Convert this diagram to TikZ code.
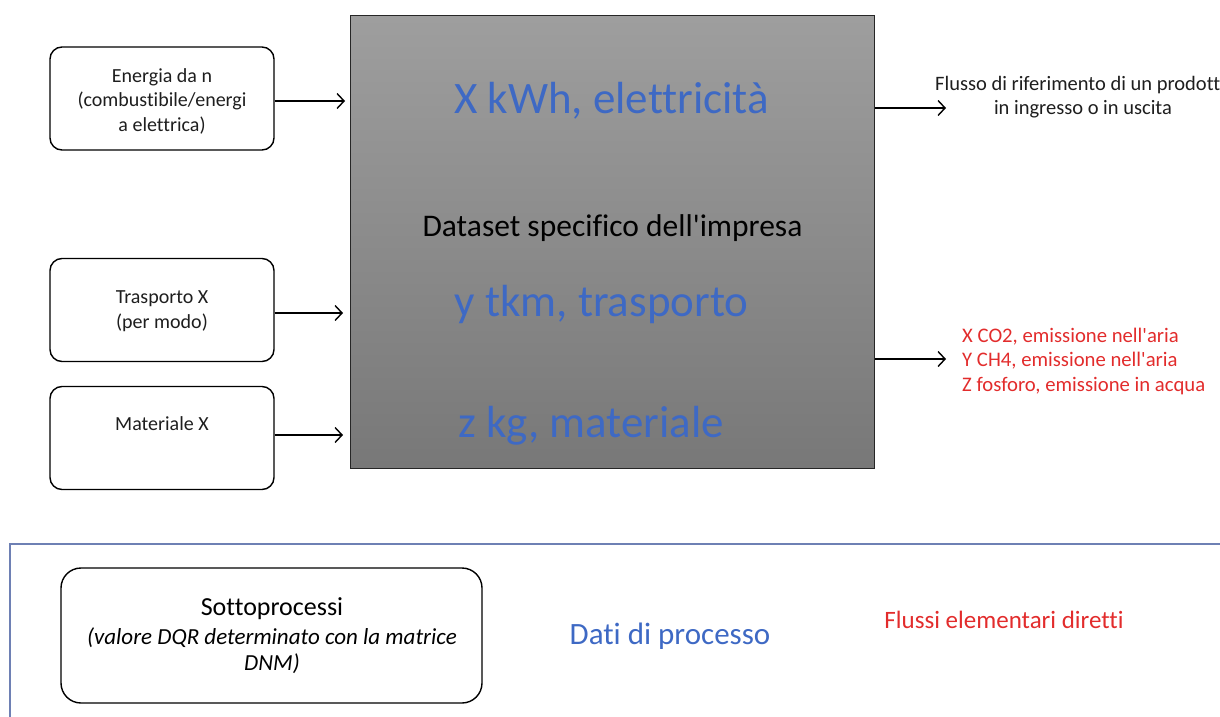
\documentclass[tikz,border=0pt]{standalone}
\usepackage{fontspec}
\setmainfont{Carlito}[Ligatures={TeXOff,NoCommon}]
\usetikzlibrary{arrows.meta}
\definecolor{offblue}{RGB}{62,105,196}
\definecolor{offred}{RGB}{226,44,44}
\definecolor{framebl}{RGB}{110,128,180}
\definecolor{txtgray}{RGB}{30,30,30}
\tikzset{
  inbox/.style={draw=black, line width=1.4pt, rounded corners=12pt, minimum width=224pt, minimum height=103pt},
  flow/.style={-{Straight Barb[length=7pt,width=15pt,line width=1.4pt]}, line width=1.4pt},
  lbl/.style={font=\fontsize{20}{24.5}\selectfont, align=center, text=txtgray, inner sep=0pt},
  big/.style={font=\fontsize{45}{50}\selectfont, text=offblue, inner sep=0pt},
}
\begin{document}
\begin{tikzpicture}[x=1pt,y=-1pt]
\useasboundingbox (0,0) rectangle (1220,717);
% main box
\node[draw=black!85, line width=1pt, top color=black!38, bottom color=black!53, minimum width=524pt, minimum height=453pt, anchor=north west, inner sep=0pt] (main) at (350,15) {};
\node[big] (kwh) at (611.5,101) {X kWh, elettricità};
\node[font=\fontsize{31.5}{36}\selectfont, text=black, inner sep=0pt] (ds) at (612.5,228) {Dataset specifico dell'impresa};
\node[big] (tkm) at (601.5,304) {y tkm, trasporto};
\node[big] (kg) at (591,426) {z kg, materiale};
% input boxes
\node[inbox] (b1) at (162,98.5) {};
\node[lbl] (t1) at (162,101) {Energia da n\\(combustibile/energi\\a elettrica)};
\node[inbox] (b2) at (162,310) {};
\node[lbl] (t2) at (162,311) {Trasporto X\\(per modo)};
\node[inbox] (b3) at (162,438) {};
\node[lbl] (t3) at (162,424) {Materiale X};
\coordinate (i1) at (345,101);
\coordinate (i2) at (343,313);
\coordinate (i3) at (343,435);
\draw[flow] (b1.east |- i1) -- (i1);
\draw[flow] (b2.east |- i2) -- (i2);
\draw[flow] (b3.east |- i3) -- (i3);
% outputs
\coordinate (o1) at (946,108);
\coordinate (o2) at (946,359);
\draw[flow] (main.east |- o1) -- (o1);
\draw[flow] (main.east |- o2) -- (o2);
\node[lbl, font=\fontsize{20.5}{24.5}\selectfont, anchor=west, align=left] (ref1) at (935,85) {Flusso di riferimento di un prodott};
\node[lbl, font=\fontsize{20.5}{24.5}\selectfont] (ref2) at (1083,109) {in ingresso o in uscita};
\node[lbl, font=\fontsize{20.7}{24.5}\selectfont, anchor=west, align=left, text=offred] (em) at (962,361) {X CO2, emissione nell'aria\\Y CH4, emissione nell'aria\\Z fosforo, emissione in acqua};
% legend
\coordinate (f0) at (10,717);
\coordinate (f1) at (10,544);
\coordinate (f2) at (1220,544);
\draw[framebl, line width=1.3pt] (f0) -- (f1) -- (f2);
\node[draw=black, line width=1.4pt, rounded corners=20pt, minimum width=421pt, minimum height=135pt] (sp) at (271.5,635.5) {};
\node[inner sep=0pt, text=black, font=\fontsize{26}{30}\selectfont] (spt) at (272,609) {Sottoprocessi};
\node[inner sep=0pt, text=black, font=\fontsize{23}{27}\selectfont\itshape] (spi) at (272,638) {(valore DQR determinato con la matrice};
\node[inner sep=0pt, text=black, font=\fontsize{23}{27}\selectfont\itshape] (spd) at (272,664) {DNM)};
\node[font=\fontsize{31}{36}\selectfont, text=offblue, inner sep=0pt] (dp) at (670,636) {Dati di processo};
\node[font=\fontsize{25}{29}\selectfont, text=offred, inner sep=0pt] (fe) at (1004,620) {Flussi elementari diretti};
\end{tikzpicture}
\end{document}
